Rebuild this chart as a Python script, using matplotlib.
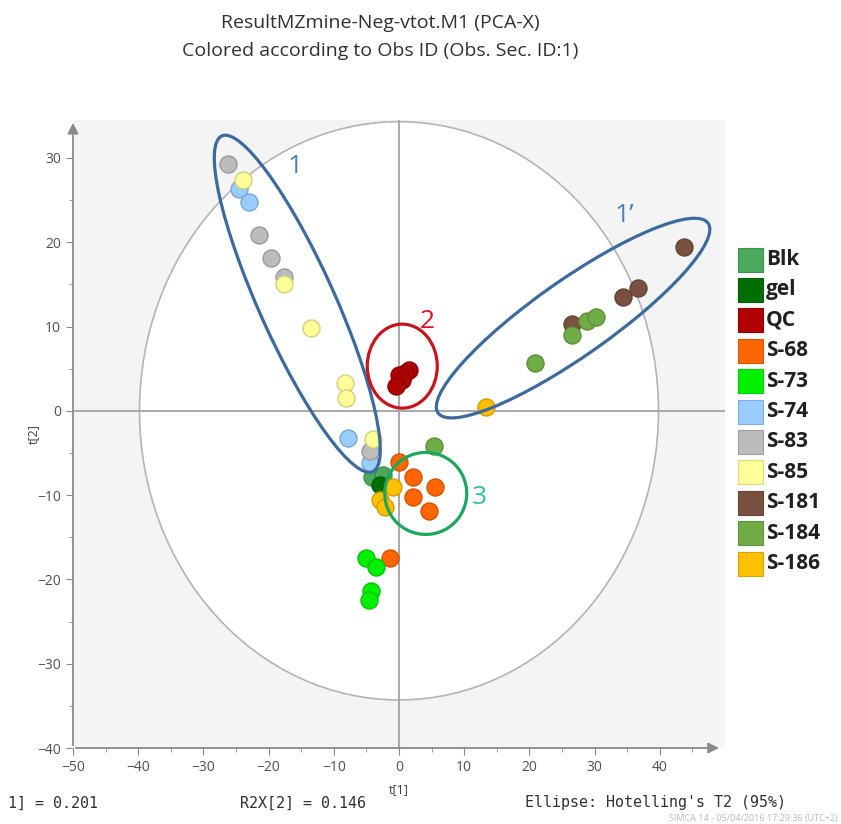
import matplotlib
matplotlib.use("Agg")
import matplotlib.pyplot as plt
import matplotlib.colors as mcolors
from matplotlib.patches import Ellipse, Rectangle
from matplotlib.transforms import ScaledTranslation
import numpy as np

plt.rcParams['font.family'] = ['Open Sans', 'DejaVu Sans']

# PCA score coordinates t[1], t[2] per observation group
groups = ['Blk', 'gel', 'QC', 'S-68', 'S-73', 'S-74', 'S-83', 'S-85', 'S-181', 'S-184', 'S-186']
colors = ['#4caa5c', '#006e00', '#b00000', '#ff6600', '#00f000', '#99ccff',
          '#bcbcbc', '#ffff99', '#7a5040', '#70ad47', '#ffc000']

t1 = {
    'Blk': [-4.2, -2.4],
    'gel': [-2.9],
    'QC': [1.5, 0.9, 0.0, 0.4, -0.5],
    'S-68': [0.0, 2.2, 5.5, 2.1, 4.6, -1.4],
    'S-73': [-5.1, -3.5, -4.3, -4.6],
    'S-74': [-24.5, -23.0, -7.8, -4.4],
    'S-83': [-26.2, -21.5, -19.6, -17.7, -4.4],
    'S-85': [-24.0, -17.7, -13.5, -8.3, -8.1, -4.0],
    'S-181': [26.6, 34.3, 36.6, 43.7],
    'S-184': [5.3, 20.9, 26.6, 28.9, 30.2],
    'S-186': [13.3, -0.9, -2.9, -2.1],
}
t2 = {
    'Blk': [-7.8, -7.6],
    'gel': [-8.8],
    'QC': [4.9, 4.5, 4.3, 3.7, 2.9],
    'S-68': [-6.1, -7.8, -9.0, -10.2, -11.9, -17.5],
    'S-73': [-17.5, -18.5, -21.4, -22.4],
    'S-74': [26.3, 24.8, -3.2, -6.2],
    'S-83': [29.3, 20.8, 18.1, 15.9, -4.8],
    'S-85': [27.4, 15.1, 9.8, 3.3, 1.5, -3.4],
    'S-181': [10.3, 13.5, 14.6, 19.4],
    'S-184': [-4.2, 5.7, 9.0, 10.6, 11.1],
    'S-186': [0.4, -9.0, -10.6, -11.4],
}

x_ticks = [-50, -40, -30, -20, -10, 0, 10, 20, 30, 40]
y_ticks = [-40, -30, -20, -10, 0, 10, 20, 30]

# Hotelling's T2 (95%) ellipse semi-axes
t2_a, t2_b = 39.8, 34.3

# Hand-drawn group outlines: centre (t1, t2), semi-axes in pixels, angle, colour
outlines = [
    ((-15.6, 12.7), 184, 38, -65.8, '#3d6a9e'),
    ((26.7, 11.0), 165, 38, 35.1, '#3d6a9e'),
    ((0.5, 5.3), 35, 42, 0, '#c8141e'),
    ((4.1, -9.8), 41, 41, 0, '#1aa85c'),
]
outline_labels = [
    ('1', -16.0, 29.0, '#4a7fbf'),
    ('1\u2019', 34.5, 23.2, '#4a7fbf'),
    ('2', 4.4, 10.6, '#dd1020'),
    ('3', 12.3, -10.3, '#2fbfa5'),
]

fig = plt.figure(figsize=(8.41, 8.24), dpi=100)
ax = fig.add_axes([73 / 841, 76 / 824, 652 / 841, 628 / 824])
ax.set_facecolor('#f4f4f4')
ax.set_xlim(-50, 50)
ax.set_ylim(-40, 34.5)

ax.add_patch(Ellipse((0, 0), 2 * t2_a, 2 * t2_b, facecolor='white',
                     edgecolor='#b4b4b4', lw=1.2, zorder=0.5))
ax.axvline(0, color='#a8a8a8', lw=1.4, zorder=0.8)
ax.axhline(0, color='#a8a8a8', lw=1.4, zorder=0.8)

for g, c in zip(groups, colors):
    edge = np.array(mcolors.to_rgb(c)) * 0.82
    ax.scatter(t1[g], t2[g], s=150, color=c, edgecolors=[edge], linewidths=1.0, zorder=3)

for (cx, cy), a, b, ang, c in outlines:
    tr = fig.dpi_scale_trans + ScaledTranslation(cx, cy, ax.transData)
    ax.add_patch(Ellipse((0, 0), 2 * a / 100, 2 * b / 100, angle=ang, transform=tr,
                         fill=False, edgecolor=c, lw=2.3, zorder=4))

for txt, x, y, c in outline_labels:
    ax.text(x, y, txt, color=c, fontsize=19, ha='center', va='center', zorder=5)

# axes styling
for s in ax.spines.values():
    s.set_visible(False)
ax.annotate('', xy=(0, 1.0), xytext=(0, 0), xycoords='axes fraction',
            arrowprops=dict(arrowstyle='-|>', color='#8a8a8a', lw=1.3, mutation_scale=16))
ax.annotate('', xy=(0.995, 0), xytext=(0, 0), xycoords='axes fraction',
            arrowprops=dict(arrowstyle='-|>', color='#8a8a8a', lw=1.3, mutation_scale=16))
ax.set_xticks(x_ticks)
ax.set_yticks(y_ticks)
ax.set_xticks(np.arange(-45, 50, 10), minor=True)
ax.set_yticks(np.arange(-35, 35, 10), minor=True)
ax.tick_params(which='major', length=5, color='#8a8a8a', labelcolor='#505050', labelsize=10)
ax.tick_params(which='minor', length=3, color='#8a8a8a')
ax.set_xlabel('t[1]', fontsize=9, color='#404040', labelpad=6)
ax.set_ylabel('t[2]', fontsize=9, color='#404040', labelpad=-2)

fig.text(380 / 841, 1 - 23 / 824, 'ResultMZmine-Neg-vtot.M1 (PCA-X)', ha='center', va='center',
         fontsize=14, color='#303030')
fig.text(380 / 841, 1 - 51 / 824, 'Colored according to Obs ID (Obs. Sec. ID:1)', ha='center',
         va='center', fontsize=14, color='#303030')

# legend swatches
for i, (g, c) in enumerate(zip(groups, colors)):
    yc = 1 - (259.5 + i * 30.4) / 824
    edge = np.array(mcolors.to_rgb(c)) * 0.85
    fig.patches.append(Rectangle((738 / 841, yc - 12 / 824), 25 / 841, 24 / 824,
                                 transform=fig.transFigure, facecolor=c, edgecolor=edge, lw=0.8))
    fig.text(766 / 841, yc, g, ha='left', va='center', fontsize=15, fontweight='bold',
             color='#202020')

mono = dict(family='DejaVu Sans Mono', fontsize=10.8, color='#303030', va='center')
fig.text(8 / 841, 1 - 803 / 824, '1] = 0.201', ha='left', **mono)
fig.text(240 / 841, 1 - 803 / 824, 'R2X[2] = 0.146', ha='left', **mono)
fig.text(525 / 841, 1 - 803 / 824, "Ellipse: Hotelling's T2 (95%)", ha='left', **mono)
fig.text(838 / 841, 1 - 818 / 824, 'SIMCA 14 - 05/04/2016 17:29:36 (UTC+2)', ha='right',
         va='center', fontsize=6.5, color='#b8b8b8')

fig.savefig('out.png', dpi=100)
